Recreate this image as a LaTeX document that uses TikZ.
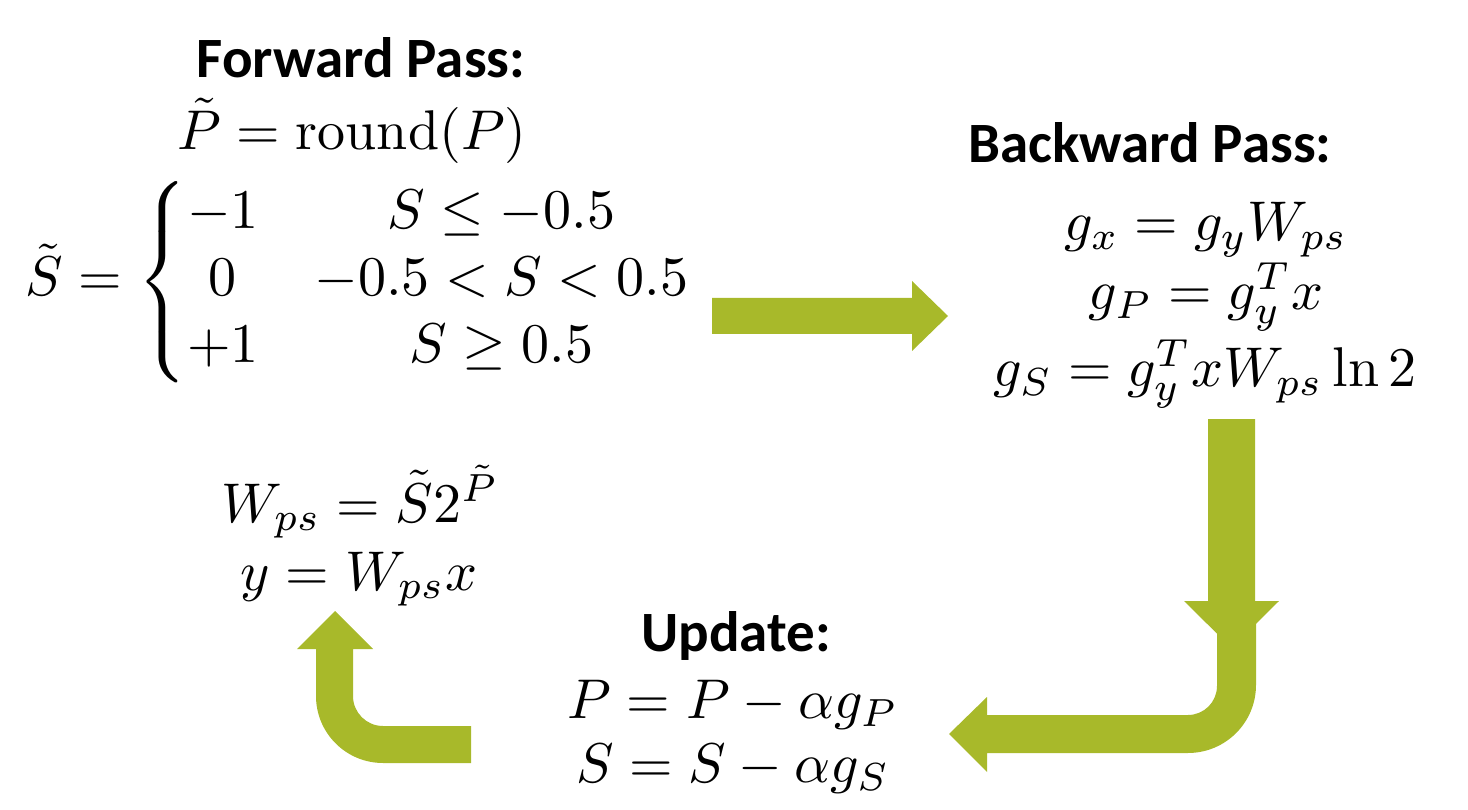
\documentclass[tikz,border=0pt]{standalone}
\usepackage{amsmath}
\usepackage{graphicx}
\usepackage{fontspec}
\newfontfamily\headfont{Carlito}
\definecolor{olivegreen}{RGB}{168,185,42}
\newcommand{\myeqn}[1]{\scalebox{5.6}{$#1$}}
\tikzset{
  headtxt/.style={font=\headfont\bfseries\fontsize{57}{67}\selectfont, anchor=base, inner sep=0pt},
  mathtxt/.style={font=\normalsize, anchor=base, inner sep=0pt},
  blockarrow/.style={fill=olivegreen, draw=none}
}
\begin{document}
\begin{tikzpicture}[x=1pt,y=-1pt]
\useasboundingbox (0,0) rectangle (1468,810);
% Forward pass
\node[headtxt] (fwdtitle) at (361,78) {Forward Pass:};
\node[mathtxt] (ptilde) at (352,150) {\myeqn{\tilde{P} = \mathrm{round}(P)}};
\node[mathtxt, anchor=center] (stilde) at (360,282) {\myeqn{\tilde{S} = \left\{\begin{array}{@{}c@{\hspace{1em}}c@{}} -1 & S \leq -0.5 \\ 0 & -0.5 < S < 0.5 \\ +1 & S \geq 0.5 \end{array}\right.}};
\node[mathtxt] (wps) at (360,522) {\myeqn{W_{ps} = \tilde{S}2^{\tilde{P}}}};
\node[mathtxt] (yeq) at (359,590) {\myeqn{y = W_{ps}x}};
% Backward pass
\node[headtxt] (bwdtitle) at (1150,163) {Backward Pass:};
\node[mathtxt] (gx) at (1206,241) {\myeqn{g_x = g_y W_{ps}}};
\node[mathtxt] (gp) at (1206,310) {\myeqn{g_P = g_y^T x}};
\node[mathtxt] (gs) at (1205,387) {\myeqn{g_S = g_y^T x W_{ps} \ln 2}};
% Update
\node[headtxt] (updtitle) at (736,651) {Update:};
\node[mathtxt] (pupd) at (733,718) {\myeqn{P = P - \alpha g_P}};
\node[mathtxt] (supd) at (733,782) {\myeqn{S = S - \alpha g_S}};
% Arrows
\fill[blockarrow] (712,298) -- (912,298) -- (912,281) -- (948,316) -- (912,351) -- (912,334) -- (712,334) -- cycle;
\fill[blockarrow] (1217,615) -- (1217,686) arc[start angle=0, end angle=90, radius=29]
  -- (987,715) -- (987,697) -- (949,734) -- (987,772) -- (987,753) -- (1188,753)
  arc[start angle=90, end angle=0, radius=68] -- (1256,615) -- cycle;
\fill[blockarrow] (1208,419) -- (1255,419) -- (1255,601) -- (1279,601) -- (1231.5,648) -- (1184,601) -- (1208,601) -- cycle;
\fill[blockarrow] (471,726) -- (383,726) arc[start angle=90, end angle=180, radius=30]
  -- (353,649) -- (373,649) -- (335,611) -- (297,649) -- (316,649) -- (316,696)
  arc[start angle=180, end angle=90, radius=67] -- (471,763) -- cycle;
\end{tikzpicture}
\end{document}
